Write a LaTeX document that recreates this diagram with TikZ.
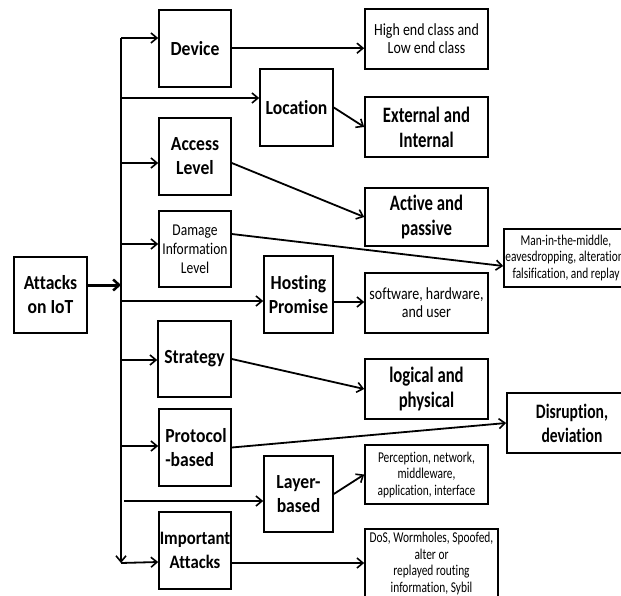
\documentclass[tikz,border=0pt]{standalone}
\usepackage{fontspec}
\setmainfont{Carlito}[Ligatures=NoCommon]
\newfontfamily\fmid{Carlito}[FakeStretch=0.88,Ligatures=NoCommon]
\newfontfamily\fbig{Carlito}[FakeStretch=0.76,Ligatures=NoCommon]
\newfontfamily\fsm{Carlito}[FakeStretch=0.82,Ligatures=NoCommon]
\newfontfamily\fxs{Carlito}[FakeStretch=0.76,Ligatures=NoCommon]
\usetikzlibrary{arrows.meta,calc}
\tikzset{
  box/.style={draw, line width=1.6pt, inner sep=0pt, align=center, rectangle},
  midf/.style={font=\fmid\bfseries\fontsize{20}{24}\selectfont},
  bigf/.style={font=\fbig\bfseries\fontsize{22}{25}\selectfont},
  smf/.style={font=\fsm\fontsize{17}{18}\selectfont},
  xsf/.style={font=\fxs\fontsize{15}{16.5}\selectfont},
  arr/.style={line width=1.8pt, -{Straight Barb[length=6pt,width=10pt,line width=1.6pt]}},
  thickarr/.style={line width=3pt, -{Straight Barb[length=6pt,width=11pt,line width=2.5pt]}}
}
\begin{document}
\begin{tikzpicture}[x=1pt,y=-1pt]
\useasboundingbox (0,0) rectangle (621,596);
\clip (0,0) rectangle (621,596);
% left column
\node[box,midf,minimum width=73,minimum height=76] (att) at (50.5,295) {Attacks\\on IoT};
\node[box,midf,minimum width=72,minimum height=77] (dev) at (195,48.5) {Device};
\node[box,midf,minimum width=73,minimum height=77] (loc) at (296.5,107.5) {Location};
\node[box,midf,minimum width=72,minimum height=77] (acc) at (195,156.5) {Access\\Level};
\node[box,font=\fsm\fontsize{16.5}{19}\selectfont,minimum width=72,minimum height=76] (dam) at (195,249) {Damage\\Information\\Level};
\node[box,midf,minimum width=69,minimum height=77] (host) at (298.5,294.5) {Hosting\\Promise};
\node[box,midf,minimum width=73,minimum height=76] (str) at (194.5,359) {Strategy};
\node[box,midf,align=left,minimum width=72,minimum height=77] (pro) at (195,447.5) {\hspace*{2pt}Protocol\\\hspace*{2pt}-based};
\node[box,midf,minimum width=69,minimum height=76] (lay) at (298.5,494) {Layer-\\based};
\node[box,font=\fmid\bfseries\fontsize{19}{24}\selectfont,minimum width=72,minimum height=77] (imp) at (195,550.5) {Important\\Attacks};
% right column
\node[box,smf,minimum width=123,minimum height=60] (hi) at (426.5,39) {High end class and\\Low end class};
\node[box,bigf,minimum width=123,minimum height=60] (ext) at (426.5,127) {External and\\Internal};
\node[box,bigf,minimum width=123,minimum height=58] (act) at (426.5,217) {Active and\\passive};
\node[box,xsf,minimum width=124,minimum height=58] (mitm) at (566,258) {Man-in-the-middle,\\eavesdropping, alteration,\\falsification, and replay};
\node[box,smf,minimum width=123,minimum height=60] (sw) at (426.5,303) {software, hardware,\\and user};
\node[box,bigf,minimum width=123,minimum height=60] (log) at (426.5,389) {logical and\\physical};
\node[box,font=\fbig\bfseries\fontsize{20.5}{24}\selectfont,minimum width=130,minimum height=60] (dis) at (572,423) {Disruption,\\deviation};
\node[box,xsf,minimum width=123,minimum height=59] (per) at (426.5,474.5) {Perception, network,\\middleware,\\application, interface};
\node[box,minimum width=133,minimum height=91] (dos) at (431.5,574.5) {};
\node[xsf,align=center,anchor=north,inner sep=0pt] (dost) at ([yshift=-4pt]dos.north) {DoS, Wormholes, Spoofed,\\alter or\\replayed routing\\information, Sybil};
% trunk
\coordinate (ttop) at (121,38);
\coordinate (tbot) at (121,563);
\draw[arr] (ttop) -- (tbot);
\draw[thickarr] ([yshift=10pt]att.east) -- ([yshift=10pt]att.east -| ttop);
\draw[arr] (ttop) -- ([yshift=10.5pt]dev.west);
\draw[arr] ([yshift=9.5pt]loc.west -| ttop) -- ([yshift=9.5pt]loc.west);
\draw[arr] ([yshift=-6.5pt]acc.west -| ttop) -- ([yshift=-6.5pt]acc.west);
\draw[arr] ([yshift=5pt]dam.west -| ttop) -- ([yshift=5pt]dam.west);
\draw[arr] ([yshift=-6.5pt]host.west -| ttop) -- ([yshift=-6.5pt]host.west);
\draw[arr] ([yshift=-1pt]str.west -| ttop) -- ([yshift=-1pt]str.west);
\draw[arr] ([yshift=1.5pt]pro.west -| ttop) -- ([yshift=1.5pt]pro.west);
\draw[arr] ([yshift=-7pt,xshift=3pt]lay.west -| ttop) -- ([yshift=-7pt]lay.west);
\draw[arr] (tbot) -- ([yshift=-11.5pt]imp.west);
% right connectors
\draw[arr] ([yshift=0.3pt]dev.east) -- ([yshift=0.3pt]dev.east -| hi.west);
\draw[arr] (loc.east) -- (ext.west);
\draw[arr] ([yshift=-6.5pt]acc.east) -- (act.west);
\draw[arr] ([yshift=15pt]dam.east) -- ([yshift=-8pt]mitm.west);
\draw[arr] ([yshift=-7.5pt]host.east) -- ([yshift=-7.5pt]host.east -| sw.west);
\draw[arr] (str.east) -- (log.west);
\draw[arr] (pro.east) -- (dis.west);
\draw[arr] (lay.east) -- (per.west);
\draw[arr] ([yshift=-12.5pt]imp.east) -- ([yshift=-12.5pt]imp.east -| dos.west);
\end{tikzpicture}
\end{document}
